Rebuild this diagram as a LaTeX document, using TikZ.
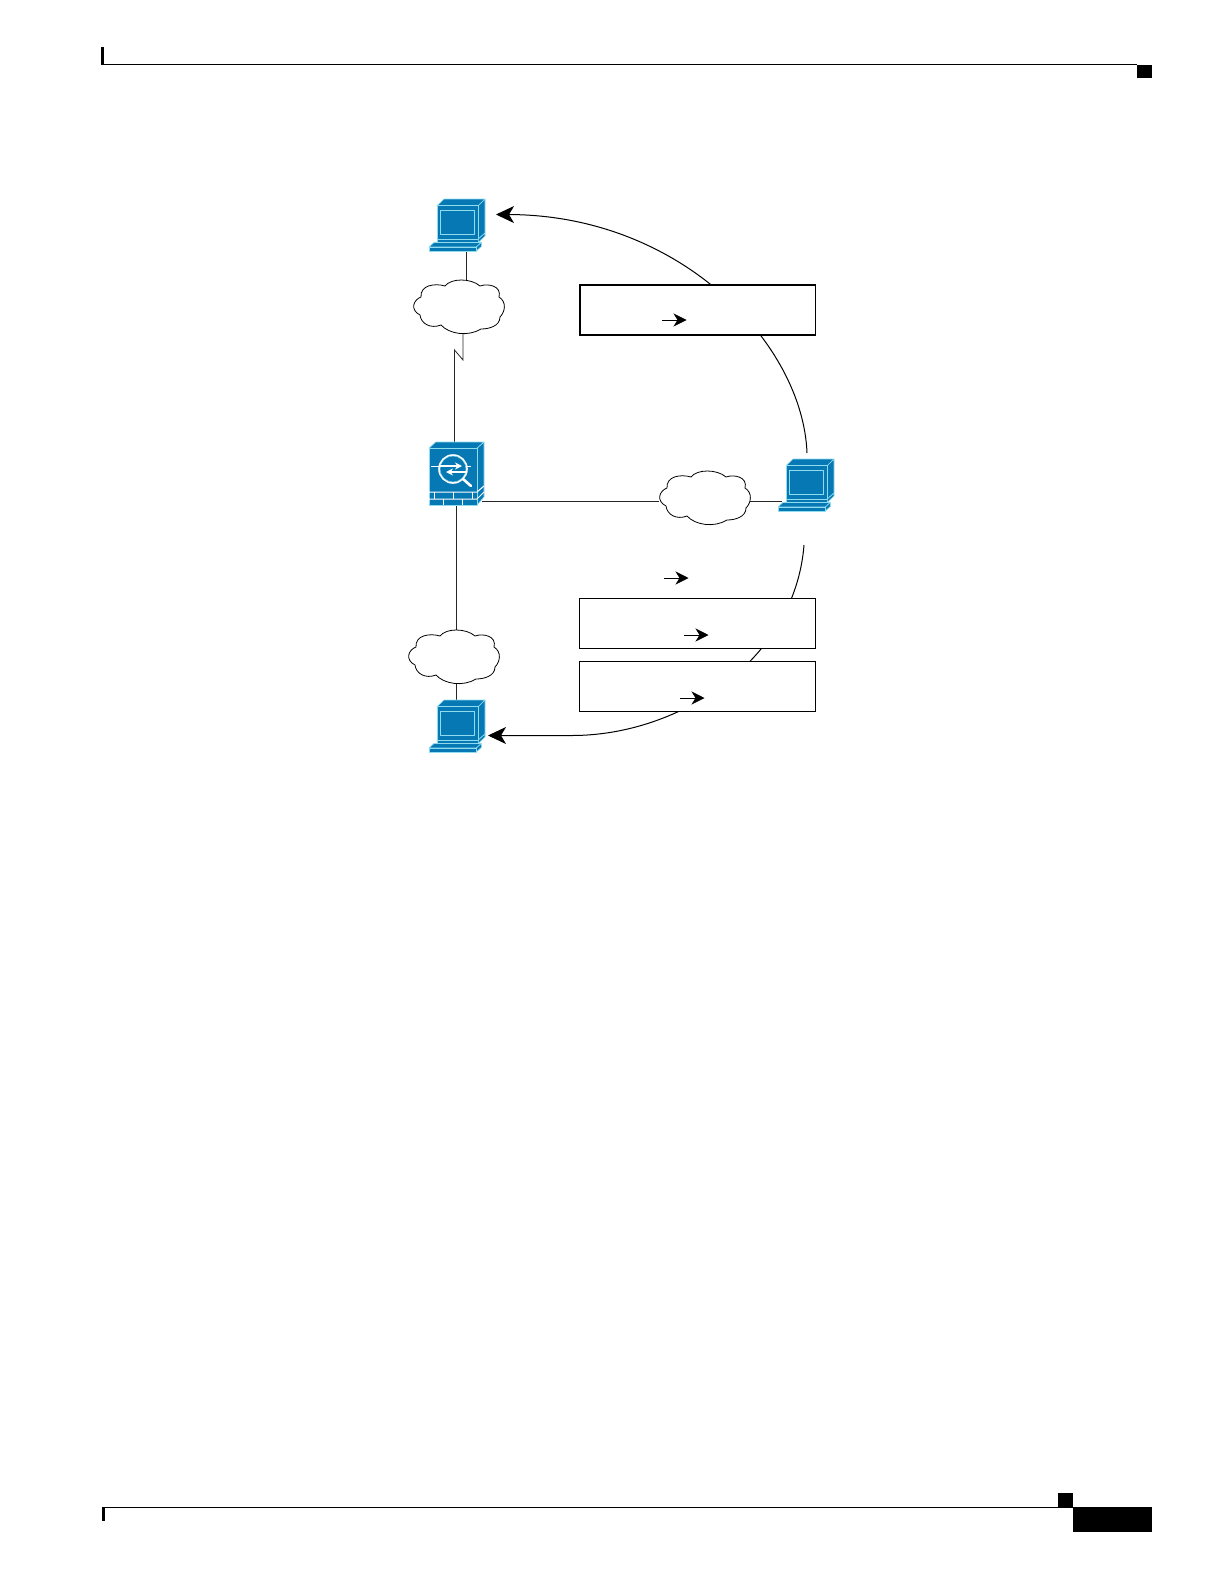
\documentclass[tikz,border=0pt]{standalone}
\usetikzlibrary{arrows.meta}
\definecolor{devblue}{HTML}{0678B4}
\definecolor{devline}{HTML}{8FDCEE}
\tikzset{
  x=1pt,y=-1pt,
  wire/.style={line width=0.8pt,draw=black!85},
  bigarrow/.style={line width=1pt,-{Stealth[length=18pt,width=17pt,inset=5pt]}},
  smallarrow/.style={line width=0.8pt,-{Stealth[length=13pt,width=13pt,inset=4pt]}},
  infobox/.style={draw=black,fill=white,line width=1.1pt,minimum width=235.5pt,minimum height=50pt,inner sep=0pt,anchor=north west},
  heavybox/.style={infobox,line width=1.7pt},
  devface/.style={fill=devblue,draw=devline,line width=0.6pt,line join=round},
  cloudline/.style={draw=black,fill=white,line width=0.8pt},
  blackfill/.style={fill=black,draw=none},
  pc/.pic={
    \path[devface] (8,6.7)--(15,0)--(56,0)--(49.3,6.7)--cycle;
    \path[devface] (49.3,6.7)--(56,0)--(56,34)--(49.3,40)--cycle;
    \path[devface] (8,6.7) rectangle (49.3,40);
    \path[devface,line width=0.9pt] (11.3,11) rectangle (45.7,35);
    \path[devface] (8,40) rectangle (49.3,43.5);
    \path[devface] (49.3,40)--(56,34)--(56,37)--(49.3,43.5)--cycle;
    \path[devface] (0,48)--(5,43.5)--(52.3,43.5)--(47.3,48)--cycle;
    \path[devface] (47.3,48)--(52.3,43.5)--(52.3,47.5)--(47.3,52)--cycle;
    \path[devface] (0,48) rectangle (47.3,52);
  },
  cloudshape/.pic={
    \path[cloudline] (32,6) .. controls (38,-2) and (58,-2) .. (67,6)
      .. controls (75,3) and (89,6) .. (86,17)
      .. controls (94,22) and (92,32) .. (87,37)
      .. controls (87,46) and (76,49) .. (68,49)
      .. controls (55,57) and (36,54) .. (28,45)
      .. controls (18,49) and (8,44) .. (7,35)
      .. controls (-3,30) and (0,20) .. (8,17)
      .. controls (7,5) and (22,3) .. (32,6) -- cycle;
  },
  inspector/.pic={
    \path[devface] (0,6.3)--(6.7,0)--(55,0)--(48,6.3)--cycle;
    \path[devface] (48,6.3)--(55,0)--(55,55)--(48,63)--cycle;
    \path[devface] (0,6.3) rectangle (48,63);
    \draw[white,line width=1pt] (0,50)--(48,50) (0,57)--(48,57)
      (48,50)--(55,44) (48,57)--(55,50);
    \draw[white,line width=1pt] (5,50)--(5,57) (24,50)--(24,57) (43,50)--(43,57)
      (14,57)--(14,63) (33,57)--(33,63);
    \draw[white,line width=0.8pt] (2,24)--(10,24) (38,24)--(42,24);
    \draw[white,line width=2.6pt,line cap=round] (34,37)--(42,44);
    \draw[white,line width=1.6pt] (24,27) circle[radius=14];
    \draw[devline,line width=0.5pt] (24,27) circle[radius=13];
    \draw[white,line width=1.2pt,-{Stealth[length=7pt,width=7pt]}] (11,24)--(33,24);
    \draw[white,line width=1.2pt,-{Stealth[length=7pt,width=7pt]}] (37,30)--(17,30);
  }
}
\begin{document}
\begin{tikzpicture}
\useasboundingbox (0,0) rectangle (1222,1584);
\fill[white] (0,0) rectangle (1222,1584);
% page furniture
\path[blackfill] (101,47) rectangle (104,65);
\path[blackfill] (101,64) rectangle (1137,65.2);
\path[blackfill] (1137,65) rectangle (1152,78);
\path[blackfill] (102,1507) rectangle (1073,1508.2);
\path[blackfill] (102,1508) rectangle (105,1521);
\path[blackfill] (1058,1493) rectangle (1073,1507);
\path[blackfill] (1073,1507) rectangle (1152,1532);
% connection points
\coordinate (pcTopS) at (466.5,251);
\coordinate (cloudTopN) at (466.5,281);
\coordinate (cloudTopS) at (463,333);
\coordinate (zigA) at (463,360);
\coordinate (zigB) at (454.5,350);
\coordinate (fwN) at (454.5,443);
\coordinate (fwE) at (482,501);
\coordinate (fwS) at (456.5,505);
\coordinate (cloudMidW) at (659,501);
\coordinate (cloudMidE) at (750,501);
\coordinate (pcMidW) at (782,501);
\coordinate (cloudBotN) at (456.5,631);
\coordinate (cloudBotS) at (456.5,683);
\coordinate (pcBotN) at (456.5,700);
\coordinate (pcMidN) at (807,453);
\coordinate (pcTopE) at (496,214.5);
\coordinate (pcMidS) at (804,545);
\coordinate (bendBot) at (572,735.5);
\coordinate (pcBotE) at (488,735.5);
% curved flows, behind the boxes
\draw[bigarrow] (pcMidN) .. controls (803,345) and (682,215) .. (pcTopE);
\draw[bigarrow] (pcMidS) .. controls (795,660) and (680,735.5) .. (bendBot) -- (pcBotE);
% wires
\draw[wire] (pcTopS) -- (cloudTopN);
\draw[wire] (cloudTopS) -- (zigA) -- (zigB) -- (fwN);
\draw[wire] (fwE) -- (cloudMidW);
\draw[wire] (cloudMidE) -- (pcMidW);
\draw[wire] (fwS) -- (cloudBotN);
\draw[wire] (cloudBotS) -- (pcBotN);
% clouds
\pic at (413,280) {cloudshape};
\pic at (659,471) {cloudshape};
\pic at (408,630) {cloudshape};
% devices
\pic at (429,199) {pc};
\pic at (778,459) {pc};
\pic at (429,700) {pc};
\pic at (429,442) {inspector};
% boxes
\node[heavybox] (boxA) at (579,283.8) {};
\node[infobox] (boxB) at (579,598) {};
\node[infobox] (boxC) at (579,661.3) {};
% small arrows
\coordinate (a1s) at (662,320); \coordinate (a1e) at (686.5,320);
\coordinate (a2s) at (664,578); \coordinate (a2e) at (688.5,578);
\coordinate (a3s) at (684,635); \coordinate (a3e) at (708.5,635);
\coordinate (a4s) at (680,698); \coordinate (a4e) at (704.5,698);
\draw[smallarrow] (a1s) -- (a1e);
\draw[smallarrow] (a2s) -- (a2e);
\draw[smallarrow] (a3s) -- (a3e);
\draw[smallarrow] (a4s) -- (a4e);
\end{tikzpicture}
\end{document}
